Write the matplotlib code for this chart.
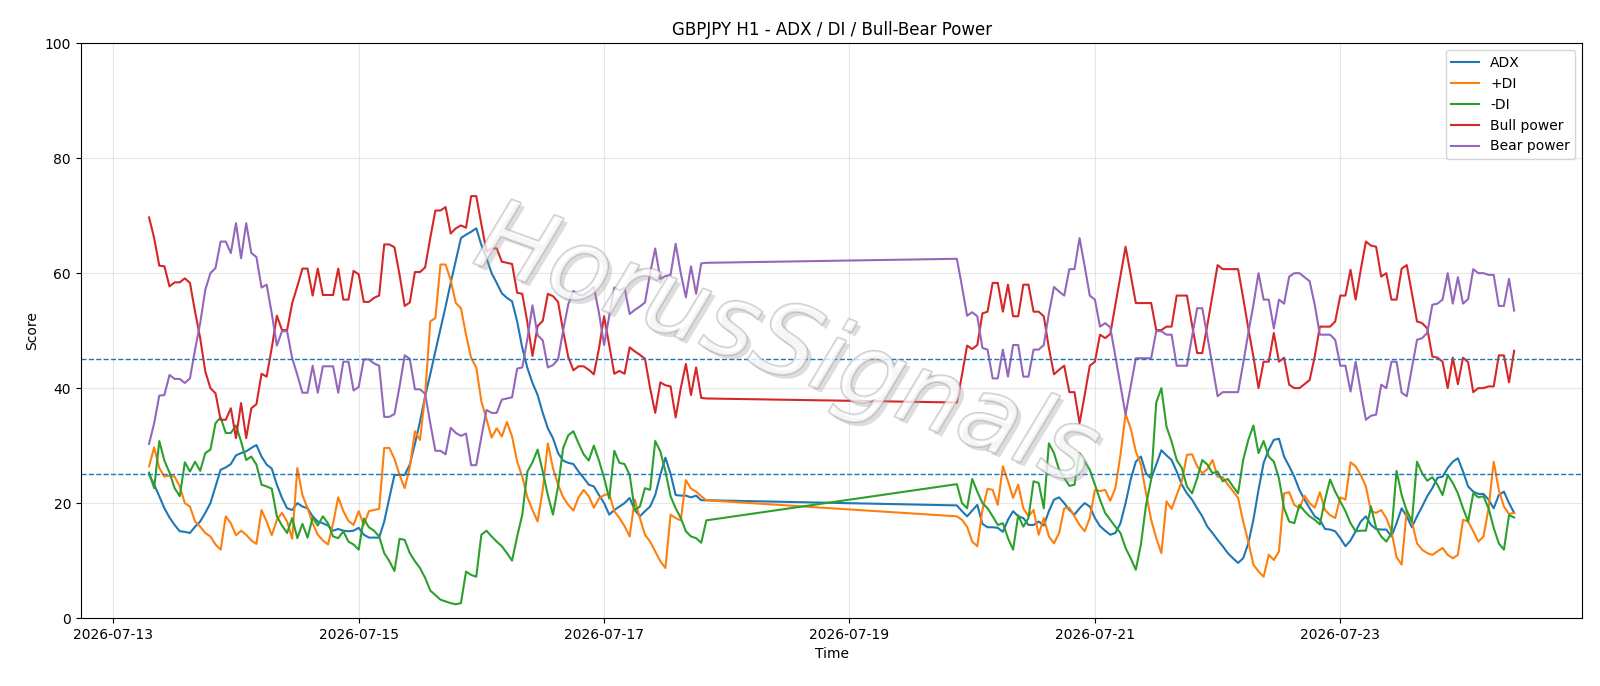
import matplotlib
matplotlib.use('Agg')
import matplotlib.pyplot as plt
import matplotlib.dates as mdates
import matplotlib.patheffects as pe
import pandas as pd

# hourly bars, two blocks either side of the weekend
start_1 = '2026-07-13 07:00'
start_2 = '2026-07-19 21:00'
n_bars = 110

adx = [25.0, 23.2, 21.2, 19.1, 17.5, 16.2, 15.1, 15.0, 14.8, 15.9, 16.8, 18.3, 20.0, 22.9, 25.8, 26.2, 26.8, 28.3, 28.7, 29.0, 29.6, 30.1,
       28.1, 26.7, 26.0, 23.2, 20.9, 19.1, 18.8, 20.0, 19.4, 19.1, 17.7, 16.8, 16.5, 16.1, 15.2, 15.5, 15.2, 15.1, 15.2, 15.7, 14.5, 14.0, 14.0,
       14.0, 16.8, 20.9, 24.9, 24.9, 24.9, 26.7, 30.3, 34.2, 38.6, 42.4, 46.4, 50.3, 54.2, 58.3, 62.2, 66.1, 66.7, 67.2, 67.8, 64.9, 62.6,
       60.0, 58.3, 56.5, 55.7, 55.1, 51.6, 47.0, 43.5, 40.9, 38.8, 35.7, 33.0, 31.3, 28.7, 27.4, 27.0, 26.8, 25.5, 24.4, 23.2, 22.9, 21.4, 20.0,
       18.0, 18.8, 19.4, 20.0, 20.9, 18.8, 17.7, 18.6, 19.4, 21.4, 24.9, 27.9, 25.1, 21.4, 21.3, 21.3, 21.0, 21.3, 20.5, 20.5,
       19.6, 18.6, 17.7, 18.7, 19.7, 16.4, 15.8, 15.8, 15.7, 15.0, 17.1, 18.6, 17.7, 17.4, 16.2, 16.2, 16.8, 16.1, 18.6,
       20.6, 21.0, 20.0, 18.8, 18.0, 19.1, 20.0, 19.4, 17.4, 16.0, 15.2, 14.5, 14.8, 16.5, 20.0, 24.1, 27.2, 28.1, 25.2, 24.3, 26.7, 29.2,
       28.3, 27.5, 25.5, 23.2, 21.7, 20.6, 19.1, 17.7, 15.9, 14.8, 13.6, 12.5, 11.3, 10.4, 9.6, 10.4, 13.0, 17.1, 22.3, 27.0, 29.3, 31.0, 31.2,
       28.1, 26.4, 24.6, 22.3, 20.6, 19.1, 17.7, 17.1, 15.5, 15.4, 15.1, 13.9, 12.5, 13.5, 15.1, 16.8, 17.7, 16.2, 15.5, 15.4, 15.4, 14.2,
       16.5, 19.1, 17.7, 15.8, 17.7, 19.4, 21.2, 22.6, 24.4, 24.6, 26.1, 27.2, 27.8, 25.5, 22.9, 22.0, 21.6, 21.6, 20.6, 19.1, 21.4, 22.0, 20.0, 18.3]

plus_di = [26.4, 29.7, 26.1, 24.6, 24.8, 24.6, 22.9, 20.0, 19.4, 16.8, 15.9, 14.8, 14.2, 12.8, 11.9, 17.7, 16.5, 14.4, 15.2, 14.5, 13.5, 12.9,
           18.8, 16.8, 14.4, 17.1, 18.3, 16.8, 13.8, 26.1, 21.4, 19.1, 16.5, 14.5, 13.5, 12.8, 16.5, 21.0, 18.6, 16.9, 16.2, 18.6, 16.2, 18.6, 18.8,
           19.0, 29.6, 29.6, 27.7, 24.9, 22.6, 26.2, 32.5, 31.0, 38.8, 51.6, 52.2, 61.5, 61.5, 58.8, 54.8, 53.9, 49.3, 45.2, 43.6, 37.7, 34.6,
           31.4, 33.0, 31.6, 34.1, 31.6, 27.2, 24.6, 21.0, 18.8, 16.8, 22.3, 30.4, 26.1, 23.2, 21.0, 19.7, 18.7, 21.0, 22.3, 21.2, 19.2, 20.8, 21.4,
           21.6, 18.6, 17.4, 16.0, 14.2, 20.6, 17.4, 14.5, 13.3, 11.6, 9.9, 8.7, 18.0, 17.4, 17.0, 24.0, 22.5, 22.0, 21.2, 20.5,
           17.7, 17.1, 15.9, 13.3, 12.5, 18.8, 22.5, 22.3, 19.7, 26.4, 23.8, 20.9, 23.2, 19.1, 17.7, 18.8, 14.5, 17.4, 14.2,
           13.0, 14.8, 19.1, 19.2, 17.7, 16.2, 15.1, 17.4, 22.3, 22.1, 22.3, 20.4, 22.6, 28.4, 35.5, 33.0, 29.0, 26.7, 21.7, 17.1, 13.9, 11.3,
           20.3, 19.0, 21.4, 23.8, 28.4, 28.5, 26.4, 25.2, 25.9, 27.5, 24.6, 24.5, 23.2, 22.1, 20.9, 16.8, 13.3, 9.3, 8.1, 7.2, 11.0, 10.1, 11.6,
           21.7, 21.9, 19.7, 19.1, 21.3, 20.0, 19.2, 21.9, 18.8, 17.9, 17.4, 21.0, 20.6, 27.1, 26.4, 24.9, 22.9, 18.6, 18.3, 18.8, 17.4, 15.1,
           10.6, 9.3, 18.8, 16.8, 13.0, 11.9, 11.3, 11.0, 11.6, 12.2, 11.0, 10.4, 11.0, 17.1, 16.8, 15.1, 13.3, 14.2, 19.1, 27.2, 22.3, 19.4, 18.1, 18.3]

minus_di = [25.3, 22.6, 30.8, 27.4, 25.3, 22.6, 21.2, 27.1, 25.5, 27.2, 25.6, 28.7, 29.3, 33.9, 34.9, 32.2, 32.2, 33.5, 30.7, 27.5, 28.1, 26.7,
            23.2, 22.9, 22.5, 17.7, 16.1, 14.8, 17.4, 13.9, 16.4, 14.0, 17.5, 16.1, 17.7, 16.5, 14.2, 13.9, 15.1, 13.3, 12.8, 11.9, 17.3, 15.8, 15.2,
            14.2, 11.3, 9.9, 8.2, 13.8, 13.6, 11.3, 9.9, 8.7, 7.0, 4.8, 4.0, 3.2, 2.9, 2.6, 2.4, 2.6, 8.1, 7.5, 7.2, 14.5, 15.2,
            14.2, 13.3, 12.5, 11.3, 10.0, 14.2, 18.0, 25.5, 27.1, 29.3, 25.5, 21.4, 18.0, 22.9, 29.6, 31.8, 32.5, 30.4, 28.5, 27.4, 30.0, 27.4, 24.4,
            20.8, 29.1, 27.0, 26.8, 24.9, 18.8, 19.4, 22.6, 22.3, 30.8, 29.0, 25.5, 21.2, 19.1, 17.4, 15.1, 14.2, 13.9, 13.1, 17.0,
            23.3, 20.0, 19.1, 24.2, 22.0, 20.0, 19.1, 17.7, 16.2, 16.5, 13.9, 11.9, 17.9, 15.9, 17.4, 23.8, 23.5, 19.1, 30.4,
            28.7, 25.8, 24.4, 23.0, 23.2, 28.7, 27.2, 25.8, 23.2, 20.6, 18.3, 17.1, 15.9, 14.8, 12.2, 10.4, 8.4, 12.8, 19.7, 24.1, 37.5, 40.0,
            33.3, 30.7, 27.5, 26.1, 22.9, 21.7, 24.3, 27.5, 26.7, 25.2, 25.5, 23.8, 24.2, 22.9, 21.7, 27.5, 31.0, 33.5, 28.7, 30.8, 28.1, 27.2, 24.3,
            19.1, 16.8, 16.5, 19.7, 18.6, 17.7, 17.1, 16.3, 20.6, 24.1, 22.0, 20.3, 18.6, 16.5, 15.1, 15.2, 15.2, 19.4, 15.7, 14.2, 13.3, 14.8,
            25.6, 21.4, 18.6, 16.8, 27.2, 25.2, 23.9, 24.5, 23.2, 21.4, 24.9, 23.5, 21.7, 19.1, 16.8, 21.7, 21.0, 21.2, 19.1, 15.7, 13.0, 11.9, 17.9, 17.5]

bull = [69.7, 66.1, 61.3, 61.2, 57.7, 58.4, 58.4, 59.1, 58.3, 53.3, 48.7, 42.9, 40.0, 39.1, 34.5, 34.5, 36.5, 31.3, 37.4, 31.3, 36.5, 37.2,
        42.5, 42.0, 47.0, 52.6, 50.1, 50.1, 54.8, 57.7, 60.8, 60.8, 56.1, 60.8, 56.2, 56.2, 56.2, 60.8, 55.4, 55.4, 60.4, 59.8, 55.0, 55.0, 55.7,
        56.1, 65.0, 65.0, 64.5, 59.7, 54.3, 54.9, 60.2, 60.2, 61.0, 66.1, 70.9, 70.9, 71.5, 66.9, 67.8, 68.3, 67.9, 73.4, 73.4, 68.5, 63.8,
        64.3, 64.3, 62.0, 61.8, 61.6, 56.6, 56.4, 51.4, 45.6, 50.8, 51.7, 56.4, 56.0, 55.0, 49.9, 45.4, 43.1, 43.8, 43.8, 43.2, 42.4, 46.9, 52.5,
        47.5, 42.5, 43.0, 42.5, 47.1, 46.4, 45.8, 45.1, 40.0, 35.7, 41.0, 40.5, 40.3, 34.9, 40.0, 44.2, 38.8, 43.6, 38.3, 38.2,
        37.5, 42.3, 47.4, 46.8, 47.5, 53.0, 53.3, 58.3, 58.3, 53.3, 58.0, 52.5, 52.5, 58.0, 58.0, 53.3, 53.3, 52.5, 47.0,
        42.4, 43.2, 43.9, 39.3, 39.3, 33.9, 38.8, 43.9, 44.6, 49.3, 48.7, 49.4, 54.5, 59.5, 64.6, 59.7, 54.8, 54.8, 54.8, 54.8, 50.1, 50.1,
        50.7, 50.7, 56.1, 56.1, 56.1, 51.0, 46.1, 46.1, 51.0, 56.2, 61.4, 60.7, 60.7, 60.7, 60.7, 55.7, 50.4, 45.5, 40.0, 44.6, 44.6, 49.6, 44.6,
        45.3, 40.6, 40.0, 40.0, 40.7, 41.4, 45.5, 50.7, 50.7, 50.7, 51.6, 56.1, 56.1, 60.6, 55.4, 60.6, 65.5, 64.8, 64.6, 59.4, 60.0, 55.4,
        55.4, 60.8, 61.4, 56.5, 51.6, 51.3, 50.4, 45.5, 45.3, 44.6, 40.0, 45.3, 40.7, 45.3, 44.5, 39.3, 40.0, 40.0, 40.3, 40.3, 45.7, 45.7, 41.0, 46.5]

bear = [30.3, 33.9, 38.7, 38.8, 42.3, 41.6, 41.6, 40.9, 41.7, 46.7, 51.3, 57.1, 60.0, 60.9, 65.5, 65.5, 63.5, 68.7, 62.6, 68.7, 63.5, 62.8,
        57.5, 58.0, 53.0, 47.4, 49.9, 49.9, 45.2, 42.3, 39.2, 39.2, 43.9, 39.2, 43.8, 43.8, 43.8, 39.2, 44.6, 44.6, 39.6, 40.2, 45.0, 45.0, 44.3,
        43.9, 35.0, 35.0, 35.5, 40.3, 45.7, 45.1, 39.8, 39.8, 39.0, 33.9, 29.1, 29.1, 28.5, 33.1, 32.2, 31.7, 32.1, 26.6, 26.6, 31.5, 36.2,
        35.7, 35.7, 38.0, 38.2, 38.4, 43.4, 43.6, 48.6, 54.4, 49.2, 48.3, 43.6, 44.0, 45.0, 50.1, 54.6, 56.9, 56.2, 56.2, 56.8, 57.6, 53.1, 47.5,
        52.5, 57.5, 57.0, 57.5, 52.9, 53.6, 54.2, 54.9, 60.0, 64.3, 59.0, 59.5, 59.7, 65.1, 60.0, 55.8, 61.2, 56.4, 61.7, 61.8,
        62.5, 57.7, 52.6, 53.2, 52.5, 47.0, 46.7, 41.7, 41.7, 46.7, 42.0, 47.5, 47.5, 42.0, 42.0, 46.7, 46.7, 47.5, 53.0,
        57.6, 56.8, 56.1, 60.7, 60.7, 66.1, 61.2, 56.1, 55.4, 50.7, 51.3, 50.6, 45.5, 40.5, 35.4, 40.3, 45.2, 45.2, 45.2, 45.2, 49.9, 49.9,
        49.3, 49.3, 43.9, 43.9, 43.9, 49.0, 53.9, 53.9, 49.0, 43.8, 38.6, 39.3, 39.3, 39.3, 39.3, 44.3, 49.6, 54.5, 60.0, 55.4, 55.4, 50.4, 55.4,
        54.7, 59.4, 60.0, 60.0, 59.3, 58.6, 54.5, 49.3, 49.3, 49.3, 48.4, 43.9, 43.9, 39.4, 44.6, 39.4, 34.5, 35.2, 35.4, 40.6, 40.0, 44.6,
        44.6, 39.2, 38.6, 43.5, 48.4, 48.7, 49.6, 54.5, 54.7, 55.4, 60.0, 54.7, 59.3, 54.7, 55.5, 60.7, 60.0, 60.0, 59.7, 59.7, 54.3, 54.3, 59.0, 53.5]

upper_level = 45
lower_level = 25

t = pd.date_range(start_1, periods=n_bars, freq='h').append(pd.date_range(start_2, periods=n_bars, freq='h'))

fig, ax = plt.subplots(1, 1, figsize=(16, 6.86), dpi=100)
ax.plot(t, adx, label='ADX')
ax.plot(t, plus_di, label='+DI')
ax.plot(t, minus_di, label='-DI')
ax.plot(t, bull, label='Bull power')
ax.plot(t, bear, label='Bear power')
ax.axhline(upper_level, ls='--', lw=1, color='tab:blue')
ax.axhline(lower_level, ls='--', lw=1, color='tab:blue')

ax.set_ylim(0, 100)
ax.set_xticks(pd.date_range('2026-07-13', '2026-07-23', freq='2D'))
ax.xaxis.set_major_formatter(mdates.DateFormatter('%Y-%m-%d'))
ax.grid(True, alpha=0.3)
ax.set_title('GBPJPY H1 - ADX / DI / Bull-Bear Power')
ax.set_xlabel('Time')
ax.set_ylabel('Score')
ax.legend(loc='upper right')

# watermark, semi transparent so the lines still show through
ax.text(0.47, 0.47, 'HorusSignals', transform=ax.transAxes, fontsize=72, style='italic',
        rotation=-20, ha='center', va='center', color='white', alpha=0.5, zorder=10,
        path_effects=[pe.SimplePatchShadow(offset=(3, -3), shadow_rgbFace='#a0a0a0', alpha=0.35),
                      pe.withStroke(linewidth=1.5, foreground='#9a9a9a')])

fig.subplots_adjust(left=0.0505, right=0.989, top=0.937, bottom=0.099)
fig.savefig('out.png')
